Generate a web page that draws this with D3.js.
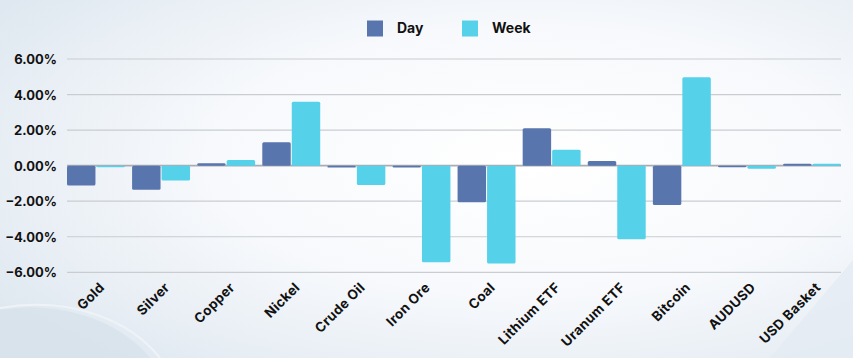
<!DOCTYPE html>
<html><head><meta charset="utf-8">
<script src="https://cdn.jsdelivr.net/npm/d3@7"></script>
<style>
html,body{margin:0;padding:0;background:#fff;}
svg{display:block;}
text{font-family:Inter,"Open Sans",sans-serif;font-weight:700;fill:#111;}
</style></head><body>
<svg id="c" width="853" height="358"></svg>
<script>
const categories = ["Gold","Silver","Copper","Nickel","Crude Oil","Iron Ore","Coal","Lithium ETF","Uranum ETF","Bitcoin","AUDUSD","USD Basket"];
const dayValues  = [-1.12,-1.35,0.13,1.32,-0.11,-0.10,-2.06,2.10,0.26,-2.21,-0.09,0.10];
const weekValues = [-0.09,-0.84,0.32,3.60,-1.09,-5.43,-5.51,0.90,-4.14,4.97,-0.17,0.10];
const seriesNames = ["Day","Week"];
const yTicks = [-6,-4,-2,0,2,4,6];
const colors = ["#5876ad","#55d1ea"];

const svg = d3.select("#c");
const W = 853, H = 358;

// background
const defs = svg.append("defs");
const rg = defs.append("radialGradient").attr("id","bg").attr("cx","0.62").attr("cy","0.45").attr("r","0.75");
rg.append("stop").attr("offset","0").attr("stop-color","#ffffff");
rg.append("stop").attr("offset","0.5").attr("stop-color","#f7f9fc");
rg.append("stop").attr("offset","1").attr("stop-color","#dfe8f0");
svg.append("rect").attr("width",W).attr("height",H).attr("fill","url(#bg)");
svg.append("path").attr("d","M0,310 C60,300 120,320 150,358 L0,358 Z").attr("fill","#d4e0ea").attr("opacity",0.6);
svg.append("path").attr("d","M0,308 C70,296 130,320 160,358").attr("fill","none").attr("stroke","#eef3f8").attr("stroke-width",2);
svg.append("path").attr("d","M853,260 L853,358 L770,358 Z").attr("fill","#e4ebf2").attr("opacity",0.8);

const x0 = d3.scaleBand().domain(categories).range([67,841]).paddingInner(0.11).paddingOuter(0);
const x1 = d3.scaleBand().domain(seriesNames).range([0,x0.bandwidth()]).paddingInner(0.035);
const y = d3.scaleLinear().domain([-6,6]).range([272.3,59]);

svg.append("g").selectAll("line").data(yTicks).join("line")
  .attr("x1",67).attr("x2",841)
  .attr("y1",d=>y(d)).attr("y2",d=>y(d))
  .attr("stroke",d=>d===0?"#a9adb3":"#c9cdd2").attr("stroke-width",d=>d===0?1.6:1.2);

const yAxis = d3.axisLeft(y).tickValues(yTicks).tickFormat(d=>d3.format(".2f")(d)+"%").tickSize(0).tickPadding(0);
const gy = svg.append("g").attr("transform","translate(57,0)").call(yAxis);
gy.select(".domain").remove();
gy.selectAll("text").attr("font-size",13).attr("font-family","Inter,'Open Sans',sans-serif").attr("font-weight",700).attr("fill","#111").attr("dy","0.35em");

const data = categories.map((c,i)=>({c, vals:[dayValues[i],weekValues[i]]}));
const groups = svg.append("g").selectAll("g").data(data).join("g")
  .attr("transform",d=>`translate(${x0(d.c)},0)`);
groups.selectAll("rect").data(d=>d.vals.map((v,j)=>({v,s:seriesNames[j],j}))).join("rect")
  .attr("x",d=>x1(d.s)).attr("width",x1.bandwidth())
  .attr("y",d=>Math.min(y(d.v),y(0))).attr("height",d=>Math.max(1.5,Math.abs(y(d.v)-y(0))))
  .attr("rx",1.5).attr("fill",d=>colors[d.j]);

const xAxis = d3.axisBottom(x0).tickSize(0).tickPadding(0);
const gx = svg.append("g").attr("transform","translate(0,280)").call(xAxis);
gx.select(".domain").remove();
gx.selectAll("text").attr("font-size",13.5).attr("font-family","Inter,'Open Sans',sans-serif").attr("font-weight",700).attr("fill","#111")
  .attr("letter-spacing",0.3)
  .attr("text-anchor","end").attr("transform","translate(6,5) rotate(-45)").attr("dy","0.35em").attr("y",0);

const leg = svg.append("g");
const lx = [367,462];
seriesNames.forEach((s,i)=>{
  leg.append("rect").attr("x",lx[i]).attr("y",20.5).attr("width",16).attr("height",16).attr("fill",colors[i]);
  leg.append("text").attr("x",lx[i]+30).attr("y",33).attr("font-size",14).text(s);
});
</script>
</body></html>
